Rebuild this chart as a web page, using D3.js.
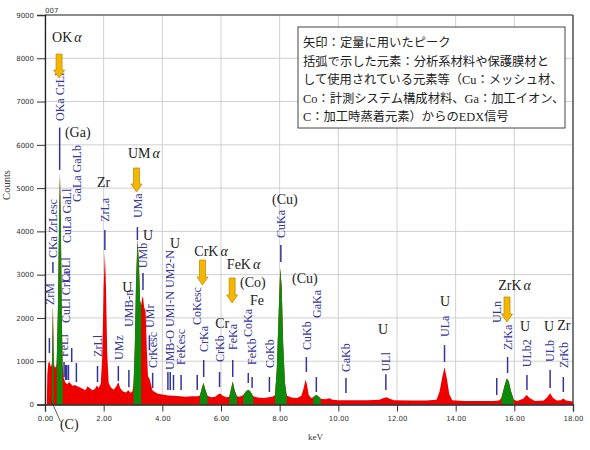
<!DOCTYPE html>
<html><head><meta charset="utf-8">
<script src="https://cdn.jsdelivr.net/npm/d3@7"></script>
<style>body{margin:0;background:#fff}</style>
</head><body><svg id="c" width="590" height="450"></svg>
<script>
// ---------------- DATA ----------------
const energyKeV = [0.00,0.06,0.08,0.11,0.15,0.19,0.22,0.24,0.26,0.27,0.28,0.30,0.34,0.38,0.40,0.44,0.48,0.51,0.54,0.57,0.60,0.64,0.70,0.76,0.82,0.88,0.95,1.02,1.10,1.20,1.30,1.38,1.45,1.52,1.62,1.70,1.77,1.83,1.90,1.95,2.00,2.04,2.08,2.12,2.17,2.24,2.34,2.44,2.50,2.56,2.66,2.76,2.84,2.92,2.98,3.02,3.06,3.10,3.15,3.20,3.24,3.28,3.31,3.34,3.38,3.43,3.47,3.51,3.56,3.60,3.66,3.74,3.85,4.00,4.20,4.40,4.60,4.80,5.00,5.20,5.28,5.34,5.40,5.46,5.54,5.66,5.80,5.92,5.98,6.06,6.18,6.28,6.34,6.40,6.46,6.54,6.64,6.76,6.85,6.93,7.00,7.10,7.25,7.45,7.62,7.76,7.84,7.90,7.96,8.02,8.07,8.12,8.18,8.24,8.40,8.60,8.74,8.82,8.88,8.93,8.99,9.07,9.14,9.24,9.32,9.40,9.55,9.70,9.80,10.0,10.5,11.0,11.4,11.55,11.65,11.75,11.9,12.5,13.0,13.35,13.45,13.55,13.62,13.70,13.78,13.88,14.3,14.8,15.3,15.48,15.56,15.66,15.74,15.81,15.89,15.98,16.1,16.3,16.42,16.52,16.7,17.0,17.12,17.22,17.32,17.45,17.58,17.67,17.76,18.0];
const countValues = [0,0,700,950,1000,880,900,1000,1900,2300,1800,950,850,880,1000,2200,4300,5350,4200,2200,900,600,500,470,520,480,430,450,420,390,360,330,420,380,330,360,440,380,480,1100,2700,3500,2700,1200,500,400,340,430,520,380,300,280,330,270,300,500,1300,2700,3800,3300,2400,2300,2450,2500,2250,2150,1300,650,600,500,330,290,250,230,210,200,190,180,190,190,210,360,500,360,200,170,180,240,250,200,170,180,350,530,340,190,180,220,300,340,300,190,160,150,170,180,220,800,2000,3150,2700,1400,500,210,160,150,200,380,570,470,220,150,170,220,190,130,120,145,110,100,100,100,110,150,165,130,100,90,90,110,300,650,860,600,250,100,80,80,80,90,150,420,600,540,300,110,80,130,220,150,80,90,170,260,150,90,100,140,90,70];
// energy ranges of the peaks used for quantification (green)
const quantRanges = [[0.24,0.30],[0.40,0.60],[3.02,3.28],[5.28,5.54],[6.28,6.54],[6.76,7.10],[7.84,8.24],[9.14,9.40],[15.56,15.98]];
const xTickValues = [0,2,4,6,8,10,12,14,16,18];
const yTickValues = [0,1000,2000,3000,4000,5000,6000,7000,8000,9000];
// line markers: [keV, label, line bottom (counts), line top (counts), label start (counts)]
const lineMarkers = [
  [0.15,"ZrM",1190,1536,2300],
  [0.27,"CKa ZrLesc",3040,3290,3384],
  [0.50,"OKa CrLl",5420,6400,6550],
  [0.65,"FeLl",635,982,1100],
  [0.70,"CuLl CrLa",566,912,1883],
  [0.72,"CoLl",566,912,2830],
  [0.74,"CuLa GaLl",566,912,3730],
  [0.80,"",566,912,0],
  [0.91,"",982,1305,0],
  [1.07,"GaLa GaLb",520,958,4677],
  [1.79,"ZrLl",520,890,1100],
  [2.04,"ZrLa",3570,4030,4220],
  [2.50,"UMz",540,890,1030],
  [2.86,"UMB-n",400,800,1790],
  [3.15,"UMa",3800,4100,4310],
  [3.34,"UMb",2645,3040,3150],
  [3.56,"UMr",1260,1600,1770],
  [3.67,"CrKesc",380,730,843],
  [4.19,"",335,750,0],
  [4.27,"UMB-O UMI-N UM2-N",335,750,797],
  [4.38,"",335,682,0],
  [4.64,"FeKesc",335,682,912],
  [5.19,"CoKesc",335,682,1836],
  [5.41,"CrKa",635,1028,1213],
  [5.95,"CrKb",404,751,982],
  [6.40,"FeKa",635,1028,1259],
  [6.93,"CoKa",497,728,1559],
  [7.06,"FeKb",381,635,912],
  [7.65,"CoKb",289,635,843],
  [8.04,"CuKa",3292,3684,3850],
  [8.91,"CuKb",751,1097,1259],
  [9.25,"GaKa",289,635,1998],
  [10.26,"GaKb",266,612,751],
  [11.62,"ULl",335,700,760],
  [13.62,"ULa",982,1374,1559],
  [15.40,"ULn",219,612,1883],
  [15.77,"ZrKa",728,1097,1259],
  [16.43,"ULb2",335,681,860],
  [17.22,"ULb",381,797,982],
  [17.67,"ZrKb",289,635,843]
];
// element annotations: [keV, counts, main text, greek suffix]
const annotations = [
  [0.24,8374,"OK","α"],[0.68,6179,"(Ga)",""],[2.83,5695,"UM","α"],[1.77,5024,"Zr",""],
  [3.34,3800,"U",""],[2.63,2599,"U",""],[4.26,3615,"U",""],[5.09,3420,"CrK","α"],
  [6.20,3130,"FeK","α"],[6.65,2714,"(Co)",""],[6.99,2299,"Fe",""],[5.80,1767,"Cr",""],
  [7.74,4632,"(Cu)",""],[8.42,2807,"(Cu)",""],[11.35,1629,"U",""],[13.47,2276,"U",""],
  [15.45,2645,"ZrK","α"],[16.19,1698,"U",""],[17.01,1698,"U",""],[17.46,1721,"Zr",""],
  [0.51,-566,"(C)",""]
];
// quantification arrows: [keV, top counts, bottom counts]
const arrows = [[0.48,8096,7542],[3.12,5464,4910],[5.37,3338,2760],[6.38,2922,2345],[15.75,2484,1906]];
const noteLines = [
  "矢印：定量に用いたピーク",
  "括弧で示した元素：分析系材料や保護膜材と",
  "して使用されている元素等（Cu：メッシュ材、",
  "Co：計測システム構成材料、Ga：加工イオン、",
  "C：加工時蒸着元素）からのEDX信号"
];

// ---------------- CHART ----------------
const svg = d3.select("#c");
const x = d3.scaleLinear().domain([0,18]).range([45,573]);
const y = d3.scaleLinear().domain([0,9000]).range([404.5,15]);
const blue = "#34349a";

// grid
const grid = svg.append("g").attr("stroke","#cfcfcf").attr("stroke-width",1);
xTickValues.forEach(t=>grid.append("line").attr("x1",x(t)).attr("x2",x(t)).attr("y1",y(9000)).attr("y2",y(0)));
yTickValues.forEach(t=>grid.append("line").attr("x1",x(0)).attr("x2",x(18)).attr("y1",y(t)).attr("y2",y(t)));

// frame top/right
svg.append("line").attr("x1",x(0)).attr("x2",x(18)).attr("y1",y(9000)).attr("y2",y(9000)).attr("stroke","#333").attr("stroke-width",1.2);
svg.append("line").attr("x1",x(18)).attr("x2",x(18)).attr("y1",y(9000)).attr("y2",y(0)).attr("stroke","#555").attr("stroke-width",1.5);

// line markers and labels
const mk = svg.append("g");
lineMarkers.forEach(([k,lab,lo,hi,lb])=>{
  mk.append("line").attr("x1",x(k)).attr("x2",x(k)).attr("y1",y(lo)).attr("y2",y(hi))
    .attr("stroke",blue).attr("stroke-width",1.5);
  if(lab){
    mk.append("text").attr("transform",`translate(${x(k)},${y(lb)}) rotate(-90)`)
      .attr("dy","0.35em").attr("font-family","Liberation Serif, Times New Roman, serif")
      .attr("font-size",12).attr("fill",blue).text(lab);
  }
});

// spectrum
const pts = energyKeV.map((e,i)=>({e, c:countValues[i]}));
const area = d3.area().x(d=>x(d.e)).y0(y(0)).y1(d=>y(d.c));
svg.append("path").datum(pts).attr("d",area).attr("fill","#ee0000");
quantRanges.forEach(([a,b])=>{
  const seg = pts.filter(d=>d.e>=a-1e-9 && d.e<=b+1e-9);
  svg.append("path").datum(seg).attr("d",area).attr("fill","#0b8a0b");
});

// axes
const yAxis = d3.axisLeft(y).tickValues(yTickValues).tickFormat(d3.format("d")).tickSize(8).tickPadding(3);
const xAxis = d3.axisBottom(x).tickValues(xTickValues).tickFormat(d3.format(".2f")).tickSize(7).tickPadding(5);
const gy = svg.append("g").attr("transform",`translate(${x(0)},0)`).call(yAxis);
const gx = svg.append("g").attr("transform",`translate(0,${y(0)})`).call(xAxis);
[gx,gy].forEach(g=>{
  g.selectAll("text").attr("font-family","DejaVu Sans, Verdana, sans-serif").attr("font-size",7).attr("fill","#333");
  g.selectAll("line").attr("stroke","#333");
  g.select(".domain").attr("stroke","#222").attr("stroke-width",1.3);
});

// axis titles
svg.append("text").attr("transform",`translate(10,185) rotate(-90)`).attr("text-anchor","middle")
  .attr("font-family","Liberation Serif, serif").attr("font-size",10.5).attr("fill","#333").text("Counts");
svg.append("text").attr("x",308).attr("y",440).attr("font-family","Liberation Serif, serif")
  .attr("font-size",9).attr("fill","#333").text("keV");
svg.append("text").attr("x",45).attr("y",13).attr("font-family","DejaVu Sans, sans-serif")
  .attr("font-size",7).attr("fill","#333").text("007");

// (C) leader line
svg.append("line").attr("x1",x(0.17)).attr("y1",y(150)).attr("x2",x(0.53)).attr("y2",y(-397))
  .attr("stroke","#333").attr("stroke-width",0.8);

// annotations
const an = svg.append("g").attr("font-family","Liberation Serif, Times New Roman, serif").attr("font-size",14).attr("fill","#222");
annotations.forEach(([k,c,t,g])=>{
  const tx = an.append("text").attr("x",x(k)).attr("y",y(c)).text(t);
  if(g) tx.append("tspan").attr("dx",2).attr("font-style","italic").text(g);
});

// arrows
arrows.forEach(([k,top,bot])=>{
  const cx=x(k), y1=y(top), y2=y(bot), hw=5.5, sw=3, hl=8;
  const p = `M${cx-sw},${y1} L${cx+sw},${y1} L${cx+sw},${y2-hl} L${cx+hw},${y2-hl} L${cx},${y2} L${cx-hw},${y2-hl} L${cx-sw},${y2-hl} Z`;
  svg.append("path").attr("d",p).attr("fill","#f2b705").attr("stroke","#c98d00").attr("stroke-width",0.8);
});

// note box
svg.append("rect").attr("x",298).attr("y",27).attr("width",267).attr("height",101)
  .attr("fill","#fff").attr("stroke","#444").attr("stroke-width",1);
const nt = svg.append("g").attr("font-family","Liberation Serif, Noto Sans CJK JP, serif").attr("font-size",12.3).attr("fill","#222");
noteLines.forEach((l,i)=>nt.append("text").attr("x",303).attr("y",47+i*18.5).text(l));
</script></body></html>
